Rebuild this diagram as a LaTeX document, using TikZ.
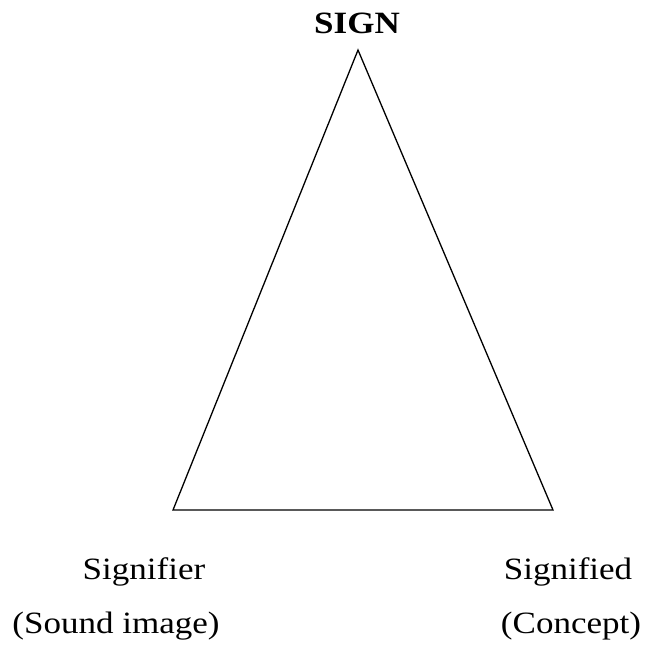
\documentclass[tikz,border=0pt]{standalone}
\usepackage{fontspec}
\setmainfont{Liberation Serif}
\usepackage{tikz}
\usetikzlibrary{positioning}

\begin{document}
\begin{tikzpicture}[x=0.5pt,y=-0.5pt,line width=0.65pt,
 label text/.style={anchor=base,inner sep=0pt,xscale=1.13,font=\fontsize{15.5}{18}\selectfont}]
\useasboundingbox (0,0) rectangle (646,645);
% corners of the triangle
\coordinate (apex) at (358,50);
\coordinate (left) at (173,510);
\coordinate (right) at (553,510);
\draw (apex) -- (left) -- (right) -- cycle;
\node[label text,font=\fontsize{15.5}{18}\selectfont\bfseries] (sign) at (357,33) {SIGN};
\node[label text] (signifier) at (144,579) {Signifier};
\node[label text] (sound) at (116,633) {(Sound image)};
\node[label text] (signified) at (568,579) {Signified};
\node[label text] (concept) at (571,633) {(Concept)};
\end{tikzpicture}
\end{document}
